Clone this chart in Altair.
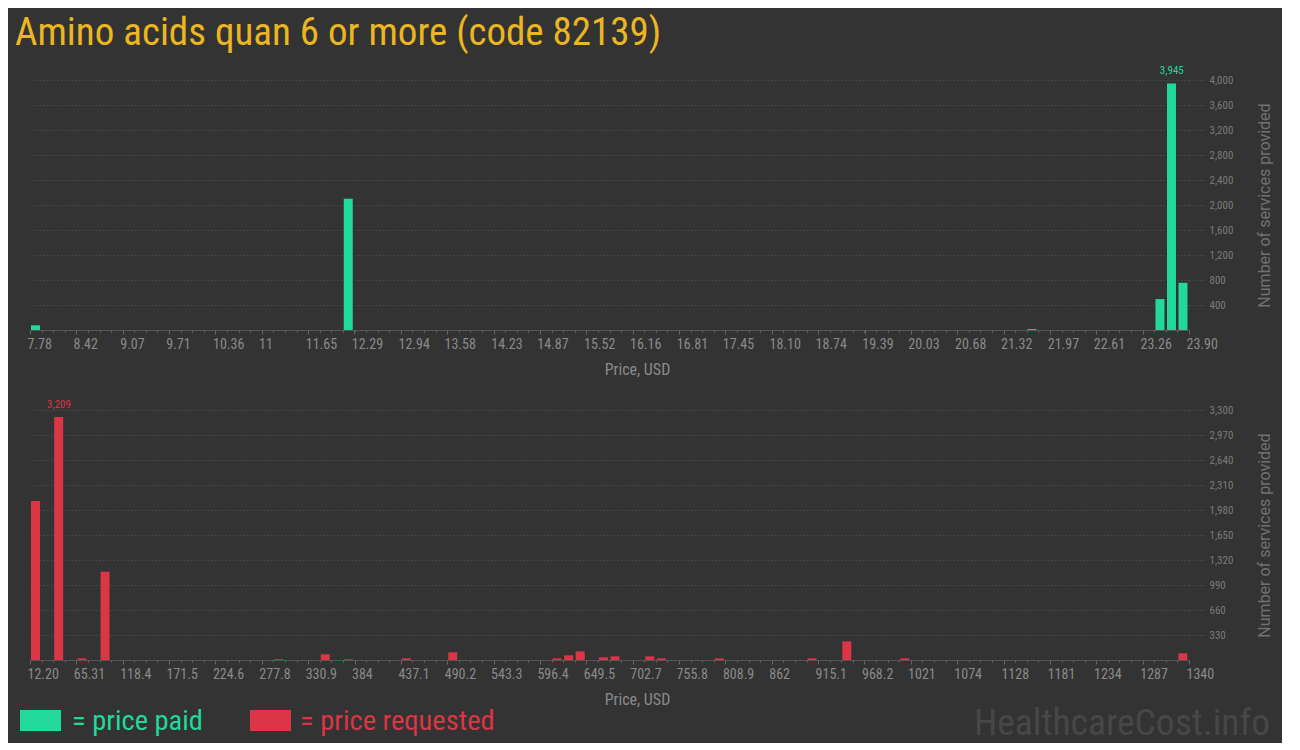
import json
import altair as alt
import pandas as pd

# ---------------- data ----------------
paid_lo = [7.78, 12.13, 21.64, 23.42, 23.58, 23.74]
paid_count = [75, 2100, 15, 495, 3945, 755]
paid_bin = 0.1612
paid_min, paid_max = 7.78, 23.90
paid_ticks = ["7.78", "8.42", "9.07", "9.71", "10.36", "11", "11.65", "12.29", "12.94",
              "13.58", "14.23", "14.87", "15.52", "16.16", "16.81", "17.45", "18.10",
              "18.74", "19.39", "20.03", "20.68", "21.32", "21.97", "22.61", "23.26", "23.90"]
paid_y_ticks = [400, 800, 1200, 1600, 2000, 2400, 2800, 3200, 3600, 4000]

req_lo = [12.20, 38.76, 65.31, 91.87, 291.04, 344.15, 370.71, 437.10, 490.21, 609.71,
          622.99, 636.27, 662.82, 676.10, 715.93, 729.21, 795.60, 901.83, 941.66,
          1008.05, 1326.72]
req_count = [2100, 3209, 22, 1165, 10, 75, 10, 22, 101, 22,
             62, 114, 35, 48, 48, 22, 22, 22, 246,
             22, 88]
req_bin = 13.278
req_min, req_max = 12.20, 1340
req_ticks = ["12.20", "65.31", "118.4", "171.5", "224.6", "277.8", "330.9", "384", "437.1",
             "490.2", "543.3", "596.4", "649.5", "702.7", "755.8", "808.9", "862", "915.1",
             "968.2", "1021", "1074", "1128", "1181", "1234", "1287", "1340"]
req_y_ticks = [330, 660, 990, 1320, 1650, 1980, 2310, 2640, 2970, 3300]

title_text = "Amino acids quan 6 or more (code 82139)"

# ---------------- style ----------------
BG = "#333333"
GREEN = "#21d99b"
RED = "#dc3545"
GOLD = "#ebb620"
NARROW = "Roboto Condensed, DejaVu Sans Condensed, Liberation Sans Narrow, Roboto, sans-serif"
GRID = "#4b4b4b"
W, H = 1159, 250


def panel(lo, counts, binw, xmin, xmax, ticks, yticks, ymax, color):
    df = pd.DataFrame({"lo": lo, "count": counts})
    df["hi"] = df["lo"] + binw
    df["mid"] = df["lo"] + binw / 2
    df["zero"] = 0
    top = df[df["count"] == df["count"].max()]

    vals = [float(t) for t in ticks]
    label_expr = "%s[indexof(%s, datum.value)]" % (json.dumps(ticks), json.dumps(vals))
    xscale = alt.Scale(domain=[xmin, xmax], nice=False, zero=False)
    yscale = alt.Scale(domain=[0, ymax], nice=False)

    major = alt.Axis(
        values=vals, labelExpr=label_expr, orient="bottom",
        tickSize=4, tickColor="#666666", domainColor="#555555", domainWidth=1,
        labelAlign="left", labelOffset=-3, labelFlush=False, labelOverlap=False,
        labelBound=False, labelPadding=3, labelFont=NARROW, labelFontSize=14,
        labelColor="#8a8a8a", grid=False,
        title="Price, USD", titleFont=NARROW, titleFontSize=16, titleColor="#8a8a8a",
        titleFontWeight="normal", titleX=607, titleY=39, titleAlign="center",
        titleBaseline="middle",
    )
    minor_vals = [round(xmin + i * binw, 4) for i in range(101)]
    minor = alt.Axis(
        values=minor_vals, orient="bottom", labels=False, domain=False, grid=False,
        tickSize=2, tickColor="#666666", title=None,
    )
    yaxis = alt.Axis(
        values=yticks, labelExpr="format(datum.value, ',')", orient="right", domain=False,
        grid=True, gridColor=GRID, gridDash=[1.5, 2],
        tickSize=16, tickColor=GRID, tickDash=[1.5, 2],
        labelPadding=4, labelFont=NARROW, labelFontSize=11, labelColor="#7a7a7a",
        title="Number of services provided", titleFont="Roboto", titleFontSize=16,
        titleFontWeight="normal", titleColor="#707070", titleAngle=270,
        titleX=75, titleY=H / 2, titleAlign="center", titleBaseline="middle",
    )

    bars = alt.Chart(df).mark_bar(color=color, xOffset=1, x2Offset=-1.6).encode(
        x=alt.X("lo:Q", scale=xscale, axis=major),
        x2="hi:Q",
        y=alt.Y("count:Q", scale=yscale, axis=yaxis),
        y2="zero:Q",
    )
    minor_layer = alt.Chart(df).mark_bar(opacity=0).encode(
        x=alt.X("lo:Q", scale=xscale, axis=minor),
        x2="hi:Q",
        y=alt.Y("count:Q", scale=yscale, axis=yaxis),
        y2="zero:Q",
    )
    label = alt.Chart(top).mark_text(
        color=color, font=NARROW, fontSize=11, dy=-9, baseline="alphabetic"
    ).encode(
        x=alt.X("mid:Q", scale=xscale, axis=None),
        y=alt.Y("count:Q", scale=yscale, axis=yaxis),
        text=alt.Text("count:Q", format=","),
    )
    return bars, minor_layer, label


def txt(s, x, y, color, size, font=NARROW):
    return alt.Chart(pd.DataFrame({"t": [s]})).mark_text(
        color=color, font=font, fontSize=size, align="left", baseline="alphabetic"
    ).encode(x=alt.value(x), y=alt.value(y), text="t:N")


def box(x, x2, y, y2, color):
    return alt.Chart(pd.DataFrame({"t": [1]})).mark_rect(color=color).encode(
        x=alt.value(x), x2=alt.value(x2), y=alt.value(y), y2=alt.value(y2)
    )


b1, m1, l1 = panel(paid_lo, paid_count, paid_bin, paid_min, paid_max, paid_ticks,
                   paid_y_ticks, 4000, GREEN)
top_chart = alt.layer(
    b1, m1, l1, txt(title_text, -15, -35, GOLD, 39)
).resolve_axis(x="independent").properties(width=W, height=H)

b2, m2, l2 = panel(req_lo, req_count, req_bin, req_min, req_max, req_ticks,
                   req_y_ticks, 3300, RED)
bottom_chart = alt.layer(
    b2, m2, l2,
    box(-10, 31, 300, 321, GREEN),
    txt("= price paid", 42, 320, GREEN, 28.5),
    box(220, 261, 300, 321, RED),
    txt("= price requested", 270, 320, RED, 28.5),
    txt("HealthcareCost.info", 944, 325, "#474747", 37.5),
).resolve_axis(x="independent").properties(width=W, height=H)

chart = alt.vconcat(top_chart, bottom_chart, spacing=80, bounds="flush").properties(
    background=BG, padding={"left": 7, "top": 6, "right": 10, "bottom": 0}
).configure_view(stroke=None)

chart.save("out.html", embed_options={"renderer": "svg", "actions": False})
